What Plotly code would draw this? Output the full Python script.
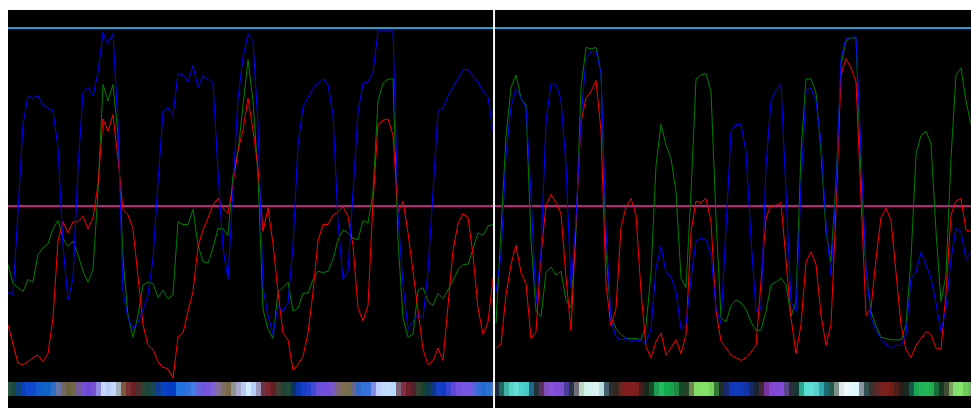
import plotly.graph_objects as go

# ---- data: channel values (0-255) per sample, two panels ----
blue_left = [65, 63, 123, 187, 208, 206, 208, 201, 199, 197, 170, 99, 59, 75, 155, 210, 214, 208, 225, 254,
             246, 253, 187, 65, 46, 38, 43, 52, 63, 89, 145, 196, 199, 194,
             224, 223, 218, 230, 214, 222, 220, 217, 153, 97, 74, 145, 206, 236, 253, 248, 187, 68, 48, 34,
             55, 51, 57, 99, 172, 200, 207, 213, 217, 220, 216, 194,
             116, 74, 80, 140, 196, 217, 218, 225, 255, 255, 255, 255, 121, 70, 38, 44, 49, 46, 80, 138,
             197, 199, 208, 214, 221, 227, 227, 222, 218, 211, 207, 182]
green_left = [85, 71, 68, 65, 74, 72, 92, 97, 100, 111, 117, 104, 98, 102, 92, 80, 72, 81, 138, 216,
              204, 216, 179, 89, 48, 32, 48, 70, 72, 71, 61, 66, 60, 63,
              116, 114, 114, 125, 99, 87, 86, 97, 111, 111, 106, 150, 167, 200, 234, 204, 150, 52, 38, 31,
              65, 68, 72, 51, 53, 64, 64, 74, 80, 79, 80, 89,
              103, 110, 108, 104, 103, 117, 115, 138, 204, 217, 220, 220, 102, 46, 32, 34, 66, 68, 58, 55,
              64, 60, 66, 73, 81, 85, 85, 97, 108, 106, 113, 114]
red_left = [41, 26, 13, 12, 14, 17, 19, 14, 20, 46, 102, 116, 108, 116, 116, 120, 111, 119, 143, 191,
            182, 194, 162, 125, 121, 111, 77, 41, 26, 23, 14, 10, 9, 2,
            32, 35, 51, 65, 98, 110, 119, 128, 133, 126, 122, 143, 168, 183, 206, 183, 155, 109, 126, 100,
            65, 35, 30, 8, 12, 18, 35, 65, 102, 114, 114, 121,
            123, 127, 120, 99, 53, 44, 55, 131, 187, 190, 191, 179, 123, 131, 108, 80, 51, 23, 12, 15,
            24, 15, 55, 95, 115, 122, 119, 92, 53, 34, 43, 75]

blue_right = [65, 92, 165, 200, 213, 206, 199, 136, 57, 94, 189, 217, 216, 205, 157, 68, 119, 191, 235, 240,
              240, 225, 109, 44, 32, 30, 31, 29, 30, 29, 28, 38, 82,
              98, 79, 76, 65, 38, 41, 75, 102, 104, 103, 92, 53, 42, 114, 182, 187, 187, 167, 104, 51,
              53, 157, 204, 212, 216, 138, 58, 51, 143, 212,
              213, 204, 174, 114, 77, 138, 235, 250, 250, 251, 162, 82, 46, 37, 31, 27, 24, 26, 26, 34,
              75, 80, 94, 85, 75, 57, 36, 53, 89, 111, 109, 89, 94]
green_right = [42, 106, 178, 214, 223, 206, 201, 102, 51, 47, 79, 83, 77, 80, 59, 53, 109, 214, 243, 242,
               243, 225, 94, 47, 38, 34, 31, 31, 31, 30, 40, 79, 157,
               187, 172, 162, 138, 75, 68, 138, 220, 223, 224, 211, 119, 46, 43, 55, 59, 57, 52, 43, 37,
               37, 51, 70, 72, 75, 70, 47, 58, 167, 220,
               220, 210, 167, 109, 87, 145, 230, 248, 250, 250, 150, 80, 51, 40, 32, 31, 30, 30, 30, 41,
               89, 165, 179, 182, 173, 109, 58, 77, 162, 223, 228, 204, 187]
red_right = [24, 27, 63, 85, 99, 79, 71, 31, 36, 92, 128, 136, 130, 122, 75, 37, 116, 189, 206, 211,
             219, 182, 70, 40, 53, 112, 127, 133, 121, 65, 25, 17, 29,
             35, 19, 24, 30, 20, 34, 109, 131, 130, 133, 116, 51, 29, 24, 19, 17, 15, 17, 21, 26,
             70, 119, 128, 128, 130, 89, 46, 20, 41, 87,
             94, 85, 48, 26, 41, 126, 223, 235, 228, 218, 138, 48, 53, 89, 119, 126, 117, 80, 41, 23,
             17, 26, 31, 36, 34, 24, 23, 65, 121, 131, 133, 110, 109]

top_level = 257.2
mid_level = 127.5

# ---- style ----
STRIP_BASE = -10.9
STRIP_H = 10.2
SPLIT = 0.5047

fig = go.Figure()


def clamp(v):
    return max(0, min(255, int(round(v))))


def add_panel(r, g, b, xa):
    xs = list(range(len(r)))
    cols = [f"rgb({clamp(rr)},{clamp(gg)},{clamp(bb)})" for rr, gg, bb in zip(r, g, b)]
    fig.add_trace(go.Bar(x=xs, y=[STRIP_H] * len(xs), base=STRIP_BASE, width=1.0,
                         marker=dict(color=cols, line=dict(width=0)),
                         xaxis=xa, yaxis="y", hoverinfo="skip", showlegend=False))
    for vals, c in ((g, "#008000"), (r, "#ff0000"), (b, "#0000ff")):
        fig.add_trace(go.Scatter(x=xs, y=vals, mode="lines", line=dict(color=c, width=1),
                                 xaxis=xa, yaxis="y", hoverinfo="skip", showlegend=False))


add_panel(red_left, green_left, blue_left, "x")
add_panel(red_right, green_right, blue_right, "x2")

fig.update_layout(
    width=971, height=408,
    margin=dict(l=8, r=0, t=10, b=0, pad=0),
    paper_bgcolor="white", plot_bgcolor="black",
    barmode="overlay", bargap=0,
    showlegend=False,
    xaxis=dict(domain=[0, SPLIT], range=[0, 97.2], visible=False, fixedrange=True),
    xaxis2=dict(domain=[SPLIT, 1], range=[-0.4, 95.0], visible=False, anchor="y", fixedrange=True),
    yaxis=dict(range=[-19.67, 270.3], visible=False, fixedrange=True),
    shapes=[
        dict(type="line", xref="paper", yref="y", x0=0, x1=1, y0=top_level, y1=top_level,
             line=dict(color="#1aa0d4", width=2), layer="below"),
        dict(type="line", xref="paper", yref="y", x0=0, x1=1, y0=mid_level, y1=mid_level,
             line=dict(color="#c0207f", width=2), layer="below"),
        dict(type="line", xref="paper", yref="paper", x0=SPLIT, x1=SPLIT, y0=0, y1=1,
             line=dict(color="#f2f2f2", width=2), layer="above"),
    ],
)

fig.write_html(
    "out.html",
    config={"displayModeBar": False, "staticPlot": True},
    post_script="document.body.style.margin='0';document.body.style.overflow='hidden';",
)
